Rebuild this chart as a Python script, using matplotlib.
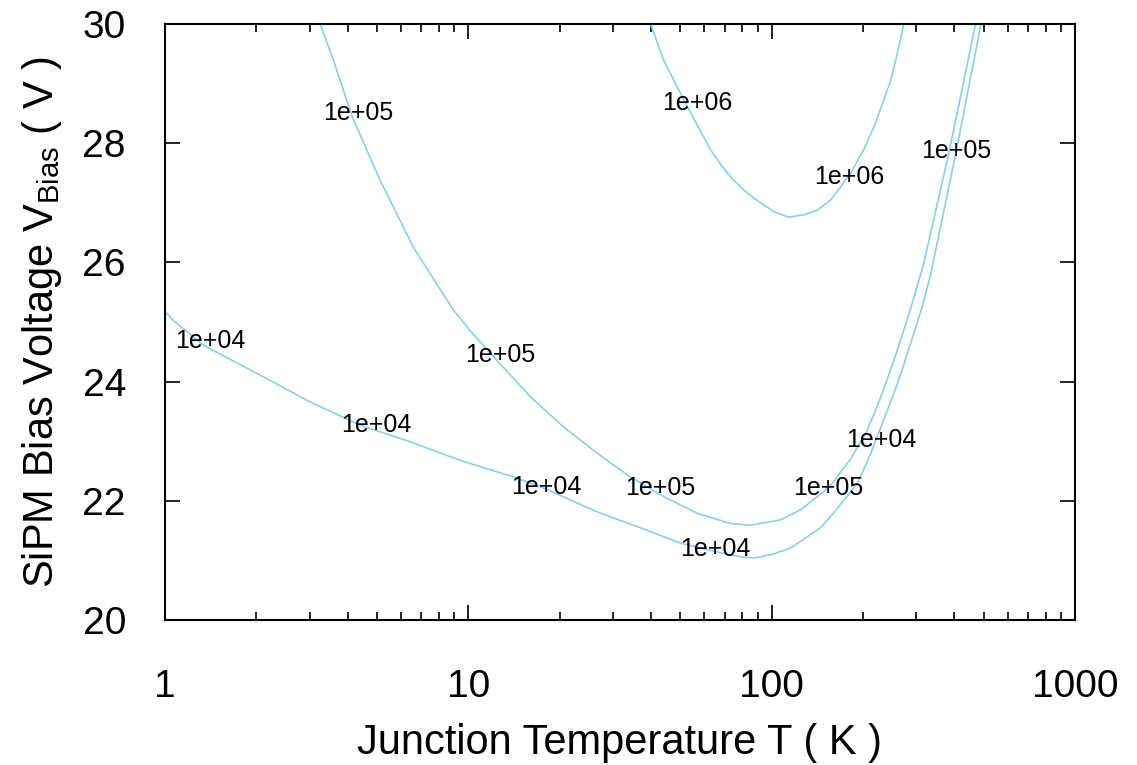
import numpy as np
import matplotlib
matplotlib.use('Agg')
import matplotlib.pyplot as plt

plt.rcParams['font.family'] = ['Liberation Sans', 'DejaVu Sans']
plt.rcParams['mathtext.fontset'] = 'custom'
plt.rcParams['mathtext.rm'] = 'Liberation Sans'
plt.rcParams['mathtext.it'] = 'Liberation Sans:italic'

# contour lines: temperature (K) and bias voltage (V)
t_1e4 = [1.0, 1.065, 1.34, 2.06, 3.01, 4.40, 6.44, 9.40, 14.1, 18.0, 26.7, 36.4, 50.1, 65.0,
         79.0, 88.0, 101.7, 115.6, 128.0, 145.0, 160.2, 192.2, 212.2, 234.2, 260.5, 287.5,
         315.0, 335.0, 405.0, 490.0]
v_1e4 = [25.18, 25.03, 24.61, 24.11, 23.66, 23.27, 22.99, 22.68, 22.40, 22.20, 21.81, 21.56, 21.29, 21.15,
         21.06, 21.04, 21.11, 21.21, 21.36, 21.55, 21.80, 22.30, 22.80, 23.36, 23.98, 24.65,
         25.29, 25.82, 27.84, 30.0]

t_1e5 = [3.25, 3.59, 4.15, 5.12, 6.6, 8.94, 10.16, 12.47, 16.0, 20.6, 26.6, 34.2, 44.1, 56.9,
         73.2, 85.2, 107.0, 124.6, 155.0, 182.0, 207.0, 229.0, 253.0, 273.0, 294.0, 317.5,
         384.0, 470.0]
v_1e5 = [30.0, 29.40, 28.44, 27.38, 26.25, 25.20, 24.85, 24.35, 23.75, 23.24, 22.80, 22.40, 22.07, 21.79,
         21.62, 21.59, 21.68, 21.85, 22.23, 22.70, 23.19, 23.74, 24.36, 24.87, 25.40, 25.99,
         27.84, 30.0]

t_1e6 = [39.9, 44.0, 48.2, 52.8, 57.6, 62.9, 68.7, 74.9, 83.2, 92.0, 101.8, 113.8, 127.9,
         141.8, 156.6, 169.0, 184.6, 201.0, 217.6, 234.0, 247.0, 256.6, 272.7]
v_1e6 = [30.0, 29.40, 29.00, 28.61, 28.25, 27.89, 27.61, 27.38, 27.16, 27.00, 26.85, 26.76, 26.80,
         26.88, 27.05, 27.27, 27.55, 27.89, 28.28, 28.72, 29.06, 29.40, 30.0]

# inline contour labels (text, T, V)
lab_text = ['1e+04'] * 5 + ['1e+05'] * 5 + ['1e+06'] * 2
lab_t = [1.41, 4.97, 18.1, 65.4, 229.0, 4.33, 12.75, 43.0, 154.2, 404.8, 57.0, 179.6]
lab_v = [24.68, 23.27, 22.23, 21.19, 23.02, 28.51, 24.45, 22.21, 22.21, 27.87, 28.67, 27.43]

line_col = '#87cefa'

fig = plt.figure(figsize=(11.37, 7.65), dpi=100)
ax = fig.add_axes([0.145, 0.1895, 0.8005, 0.7791])

for t, v in [(t_1e4, v_1e4), (t_1e5, v_1e5), (t_1e6, v_1e6)]:
    ax.plot(t, v, color=line_col, lw=1.2)

for s, t, v in zip(lab_text, lab_t, lab_v):
    ax.text(t, v, s, fontsize=18, ha='center', va='center', color='black')

ax.set_xscale('log')
ax.set_xlim(1, 1000)
ax.set_ylim(20, 30)
ax.set_xticks([1, 10, 100, 1000], labels=['1', '10', '100', '1000'])
ax.set_yticks([20, 22, 24, 26, 28, 30])

ax.tick_params(which='both', direction='in', top=True, right=True, width=1.2)
ax.tick_params(which='major', length=10.5, labelsize=28)
ax.tick_params(axis='x', which='major', pad=35)
ax.tick_params(axis='y', which='major', pad=28)
ax.tick_params(which='minor', length=5.5)
ax.tick_params(axis='y', which='minor', left=False, right=False)
for sp in ax.spines.values():
    sp.set_linewidth(1.5)

ax.set_xlabel('Junction Temperature T ( K )', fontsize=30, labelpad=13)
ax.set_ylabel(r'SiPM Bias Voltage V$_{\mathrm{Bias}}$ ( V )', fontsize=30, labelpad=13)

fig.savefig('out.png', dpi=100)
